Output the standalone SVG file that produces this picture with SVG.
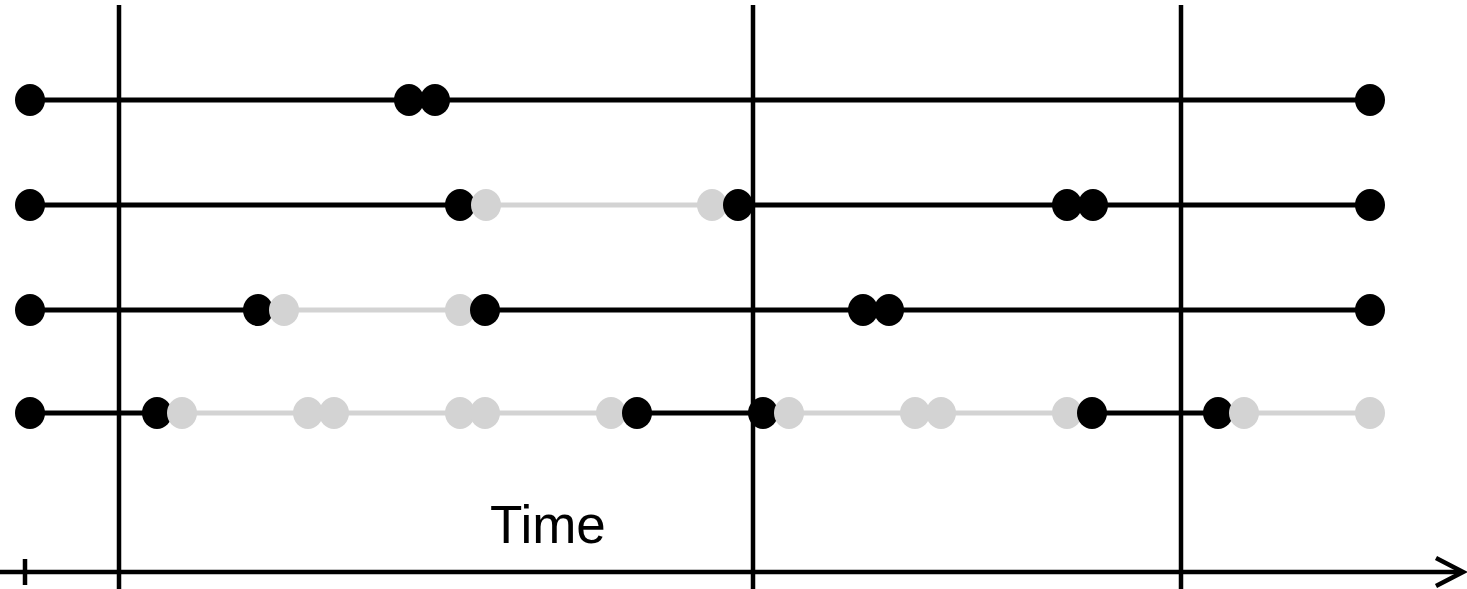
<svg xmlns="http://www.w3.org/2000/svg" width="1467" height="589" viewBox="0 0 1467 589">
  <style>
    .grid { stroke: #000; stroke-width: 4.5; fill: none; }
    .on { stroke: #000; stroke-width: 5; fill: none; }
    .off { stroke: #d3d3d3; stroke-width: 5; fill: none; }
    .dk { fill: #000; }
    .lt { fill: #d3d3d3; }
    .label { font-family: "Liberation Sans", Arial, sans-serif; font-size: 53px; fill: #000; }
  </style>
  <defs>
    <ellipse id="dot" cx="0" cy="0" rx="15" ry="16"/>
  </defs>

  <!-- time axis and period boundaries -->
  <g id="axis">
    <line class="grid" x1="119" y1="5" x2="119" y2="589"/>
    <line class="grid" x1="753" y1="5" x2="753" y2="589"/>
    <line class="grid" x1="1181" y1="5" x2="1181" y2="589"/>
    <line class="grid" x1="0" y1="572" x2="1462" y2="572"/>
    <line class="grid" x1="25" y1="559" x2="25" y2="585"/>
    <polyline class="grid" points="1436,558 1463,572 1436,586"/>
    <text class="label" x="490" y="543">Time</text>
  </g>

  <!-- segments between events -->
  <g id="connectors">
    <line class="on" x1="30" y1="100" x2="1370" y2="100"/>

    <line class="on" x1="30" y1="205" x2="460" y2="205"/>
    <line class="off" x1="486" y1="205" x2="712" y2="205"/>
    <line class="on" x1="738" y1="205" x2="1370" y2="205"/>

    <line class="on" x1="30" y1="310" x2="258" y2="310"/>
    <line class="off" x1="284" y1="310" x2="460" y2="310"/>
    <line class="on" x1="485" y1="310" x2="1370" y2="310"/>

    <line class="on" x1="30" y1="413" x2="157" y2="413"/>
    <line class="off" x1="182" y1="413" x2="611" y2="413"/>
    <line class="on" x1="637" y1="413" x2="763" y2="413"/>
    <line class="off" x1="789" y1="413" x2="1067" y2="413"/>
    <line class="on" x1="1092" y1="413" x2="1218" y2="413"/>
    <line class="off" x1="1244" y1="413" x2="1370" y2="413"/>
  </g>

  <!-- event markers, one group per row -->
  <g id="row1">
    <use href="#dot" class="dk" x="30" y="100"/>
    <use href="#dot" class="dk" x="409" y="100"/>
    <use href="#dot" class="dk" x="435" y="100"/>
    <use href="#dot" class="dk" x="1370" y="100"/>
  </g>
  <g id="row2">
    <use href="#dot" class="dk" x="30" y="205"/>
    <use href="#dot" class="dk" x="460" y="205"/>
    <use href="#dot" class="lt" x="486" y="205"/>
    <use href="#dot" class="lt" x="712" y="205"/>
    <use href="#dot" class="dk" x="738" y="205"/>
    <use href="#dot" class="dk" x="1067" y="205"/>
    <use href="#dot" class="dk" x="1093" y="205"/>
    <use href="#dot" class="dk" x="1370" y="205"/>
  </g>
  <g id="row3">
    <use href="#dot" class="dk" x="30" y="310"/>
    <use href="#dot" class="dk" x="258" y="310"/>
    <use href="#dot" class="lt" x="284" y="310"/>
    <use href="#dot" class="lt" x="460" y="310"/>
    <use href="#dot" class="dk" x="485" y="310"/>
    <use href="#dot" class="dk" x="863" y="310"/>
    <use href="#dot" class="dk" x="889" y="310"/>
    <use href="#dot" class="dk" x="1370" y="310"/>
  </g>
  <g id="row4">
    <use href="#dot" class="dk" x="30" y="413"/>
    <use href="#dot" class="dk" x="157" y="413"/>
    <use href="#dot" class="lt" x="182" y="413"/>
    <use href="#dot" class="lt" x="308" y="413"/>
    <use href="#dot" class="lt" x="334" y="413"/>
    <use href="#dot" class="lt" x="460" y="413"/>
    <use href="#dot" class="lt" x="485" y="413"/>
    <use href="#dot" class="lt" x="611" y="413"/>
    <use href="#dot" class="dk" x="637" y="413"/>
    <use href="#dot" class="dk" x="763" y="413"/>
    <use href="#dot" class="lt" x="789" y="413"/>
    <use href="#dot" class="lt" x="915" y="413"/>
    <use href="#dot" class="lt" x="941" y="413"/>
    <use href="#dot" class="lt" x="1067" y="413"/>
    <use href="#dot" class="dk" x="1092" y="413"/>
    <use href="#dot" class="dk" x="1218" y="413"/>
    <use href="#dot" class="lt" x="1244" y="413"/>
    <use href="#dot" class="lt" x="1370" y="413"/>
  </g>
</svg>
